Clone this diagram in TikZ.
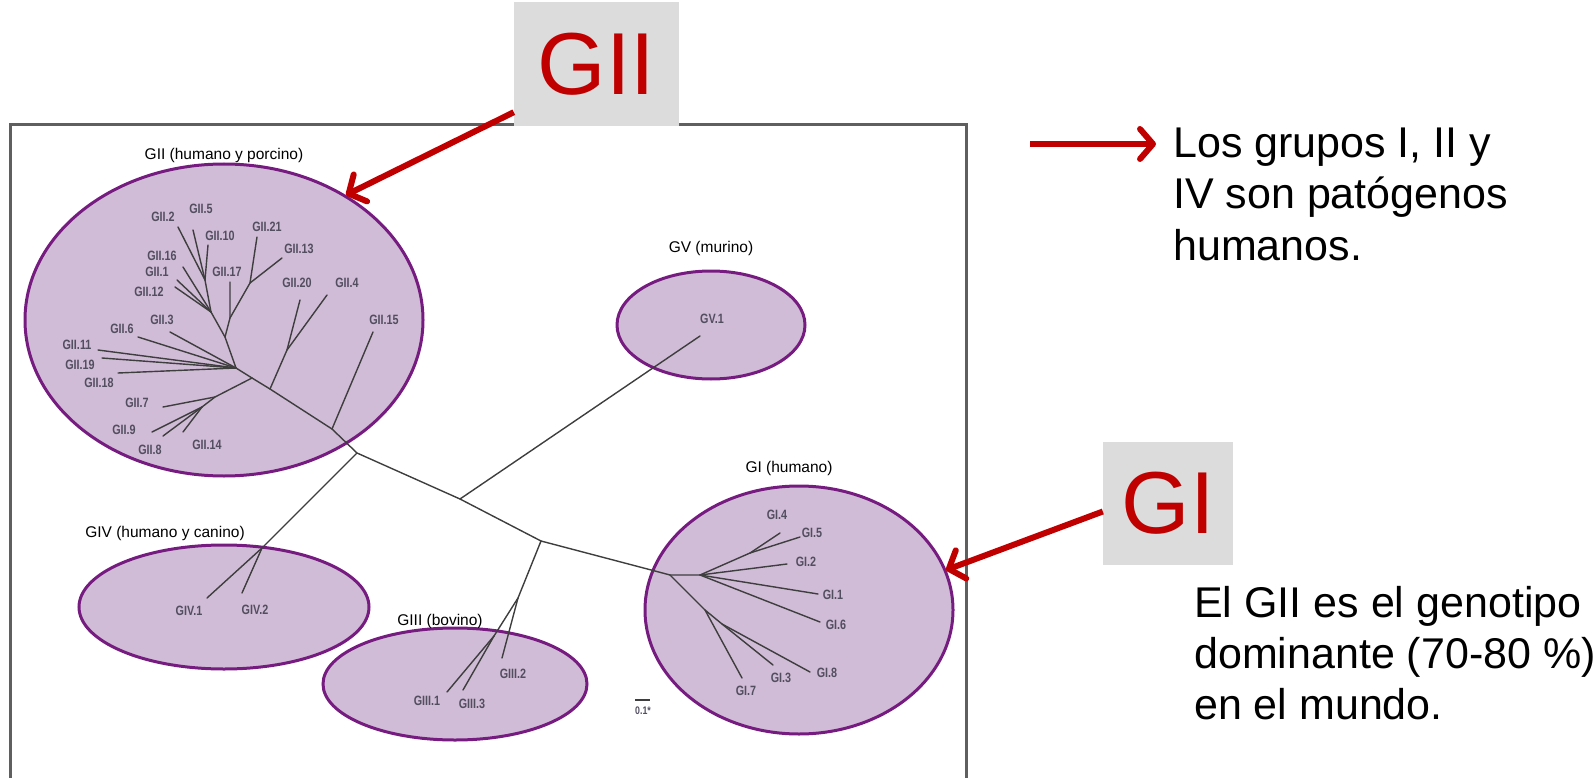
\documentclass[tikz,border=0pt]{standalone}
\usepackage{fontspec}
\setmainfont{Liberation Sans}
\usetikzlibrary{shapes.geometric,arrows.meta}
\definecolor{grpfill}{RGB}{208,188,214}
\definecolor{grpedge}{RGB}{118,28,128}
\definecolor{treecol}{RGB}{62,62,62}
\definecolor{callred}{RGB}{192,0,0}
\definecolor{boxgray}{RGB}{220,220,220}
\definecolor{leafcol}{RGB}{82,78,96}
\definecolor{framecol}{RGB}{95,95,95}
\newcommand{\leaftxt}[1]{\scalebox{0.8}[1]{#1}}
\begin{document}
\begin{tikzpicture}[x=1pt,y=-1pt,
  grp/.style={ellipse, draw=grpedge, fill=grpfill, line width=3pt, inner sep=0pt},
  br/.style={draw=treecol, line width=1.4pt, line cap=round},
  lf/.style={text=leafcol, inner sep=0pt, font=\fontsize{13.5}{14}\selectfont\bfseries},
  glab/.style={inner sep=0pt, font=\fontsize{15.5}{17}\selectfont},
  bigtxt/.style={inner sep=0pt, anchor=base west, font=\fontsize{43}{50}\selectfont},
  callbox/.style={fill=boxgray, inner sep=0pt, text=callred, font=\fontsize{88}{90}\selectfont},
  callarrow/.style={draw=callred, line width=6pt, -{Straight Barb[length=13pt,width=30pt,round]}}
]
\useasboundingbox (0,0) rectangle (1595,778);
% frame of the figure
\draw[framecol, line width=3pt] (10,790) -- (10,125) -- (966,125) -- (966,790);

% group ellipses
\node[grp, minimum width=398, minimum height=312] (eII) at (224,320) {};
\node[grp, minimum width=188, minimum height=108] (eV) at (711,325) {};
\node[grp, minimum width=290, minimum height=124] (eIV) at (224,607) {};
\node[grp, minimum width=264, minimum height=112] (eIII) at (455,684) {};
\node[grp, minimum width=308, minimum height=248] (eI) at (799,610) {};

% group labels
\node[glab] (labII) at (224,155) {GII (humano y porcino)};
\node[glab] (labV) at (711,248) {GV (murino)};
\node[glab] (labIV) at (165,533) {GIV (humano y canino)};
\node[glab] (labIII) at (440,621) {GIII (bovino)};
\node[glab] (labI) at (789,468) {GI (humano)};

% backbone coordinates
\coordinate (rII) at (252,378);
\coordinate (j20) at (270,389);
\coordinate (b15) at (332,429);
\coordinate (jIV) at (357,453);
\coordinate (jV) at (460,499);
\coordinate (jIII) at (541,541);
\coordinate (bnd) at (655,571);
\coordinate (rI) at (670,575);
\draw[br] (rII) -- (j20) -- (b15) -- (jIV) -- (jV) -- (jIII) -- (bnd) -- (rI);

% GV
\coordinate (eGV1) at (700,336);
\draw[br] (jV) -- (eGV1);
\node[lf] (nGV1) at (712,319) {\leaftxt{GV.1}};

% GIV
\coordinate (jIVb) at (262,548);
\coordinate (eGIV1) at (207,598);
\coordinate (eGIV2) at (242,593);
\draw[br] (jIV) -- (jIVb) -- (eGIV1);
\draw[br] (jIVb) -- (eGIV2);
\node[lf] (nGIV1) at (189,611) {\leaftxt{GIV.1}};
\node[lf] (nGIV2) at (255,610) {\leaftxt{GIV.2}};

% GIII
\coordinate (jIIIb) at (518,598);
\coordinate (jIIIc) at (494,636);
\coordinate (eGIII1) at (447,692);
\coordinate (eGIII2) at (502,658);
\coordinate (eGIII3) at (463,690);
\draw[br] (jIII) -- (jIIIb) -- (eGIII2);
\draw[br] (jIIIb) -- (jIIIc) -- (eGIII1);
\draw[br] (jIIIc) -- (eGIII3);
\node[lf] (nGIII1) at (427,701) {\leaftxt{GIII.1}};
\node[lf] (nGIII3) at (472,704) {\leaftxt{GIII.3}};
\node[lf] (nGIII2) at (513,674) {\leaftxt{GIII.2}};

% GI subtree
\coordinate (jIa) at (700,575);
\coordinate (jI45) at (750,553);
\coordinate (eGI4) at (780,533);
\coordinate (eGI5) at (800,537);
\coordinate (eGI2) at (787,564);
\coordinate (eGI1) at (818,594);
\coordinate (eGI6) at (820,622);
\coordinate (jIb) at (705,610);
\coordinate (jI38) at (722,624);
\coordinate (eGI7) at (742,678);
\coordinate (eGI3) at (773,665);
\coordinate (eGI8) at (810,672);
\draw[br] (rI) -- (jIa) -- (jI45) -- (eGI4);
\draw[br] (jI45) -- (eGI5);
\draw[br] (jIa) -- (eGI2);
\draw[br] (jIa) -- (eGI1);
\draw[br] (jIa) -- (eGI6);
\draw[br] (rI) -- (jIb) -- (eGI7);
\draw[br] (jIb) -- (jI38) -- (eGI3);
\draw[br] (jI38) -- (eGI8);
\node[lf] (nGI4) at (777,515) {\leaftxt{GI.4}};
\node[lf] (nGI5) at (812,533) {\leaftxt{GI.5}};
\node[lf] (nGI2) at (806,562) {\leaftxt{GI.2}};
\node[lf] (nGI1) at (833,595) {\leaftxt{GI.1}};
\node[lf] (nGI6) at (836,625) {\leaftxt{GI.6}};
\node[lf] (nGI8) at (827,673) {\leaftxt{GI.8}};
\node[lf] (nGI3) at (781,678) {\leaftxt{GI.3}};
\node[lf] (nGI7) at (746,691) {\leaftxt{GI.7}};

% GII subtree
\coordinate (e15) at (373,332);
\draw[br] (b15) -- (e15);
\coordinate (jJ) at (287,350);
\coordinate (e20) at (300,300);
\coordinate (e4) at (327,295);
\draw[br] (j20) -- (jJ) -- (e4);
\draw[br] (jJ) -- (e20);
\coordinate (jA) at (215,397);
\coordinate (jB) at (202,407);
\coordinate (e7) at (163,407);
\coordinate (e9) at (152,432);
\coordinate (e8) at (163,436);
\coordinate (e14) at (183,432);
\draw[br] (rII) -- (jA) -- (e7);
\draw[br] (jA) -- (jB) -- (e9);
\draw[br] (jB) -- (e8);
\draw[br] (jB) -- (e14);
\coordinate (jC) at (236,368);
\coordinate (e11) at (98,350);
\coordinate (e19) at (102,358);
\coordinate (e18) at (118,373);
\coordinate (e6) at (138,337);
\coordinate (e3) at (170,332);
\draw[br] (rII) -- (jC) -- (e11);
\draw[br] (jC) -- (e19);
\draw[br] (jC) -- (e18);
\draw[br] (jC) -- (e6);
\draw[br] (jC) -- (e3);
\coordinate (jD) at (225,337);
\coordinate (jE) at (211,312);
\coordinate (jF) at (205,280);
\coordinate (e12) at (175,287);
\coordinate (e1) at (177,280);
\coordinate (e16) at (183,267);
\coordinate (e2) at (178,227);
\coordinate (e5) at (193,230);
\coordinate (e10) at (208,245);
\draw[br] (jC) -- (jD) -- (jE) -- (e12);
\draw[br] (jE) -- (e1);
\draw[br] (jE) -- (e16);
\draw[br] (jE) -- (jF) -- (e2);
\draw[br] (jF) -- (e5);
\draw[br] (jF) -- (e10);
\coordinate (jG) at (230,318);
\coordinate (jH) at (250,283);
\coordinate (e17) at (230,282);
\coordinate (e21) at (257,237);
\coordinate (e13) at (282,258);
\draw[br] (jD) -- (jG) -- (e17);
\draw[br] (jG) -- (jH) -- (e21);
\draw[br] (jH) -- (e13);
\node[lf] (nGII2) at (163,217) {\leaftxt{GII.2}};
\node[lf] (nGII5) at (201,209) {\leaftxt{GII.5}};
\node[lf] (nGII10) at (220,236) {\leaftxt{GII.10}};
\node[lf] (nGII21) at (267,227) {\leaftxt{GII.21}};
\node[lf] (nGII13) at (299,249) {\leaftxt{GII.13}};
\node[lf] (nGII16) at (162,256) {\leaftxt{GII.16}};
\node[lf] (nGII1) at (157,272) {\leaftxt{GII.1}};
\node[lf] (nGII17) at (227,272) {\leaftxt{GII.17}};
\node[lf] (nGII12) at (149,292) {\leaftxt{GII.12}};
\node[lf] (nGII20) at (297,283) {\leaftxt{GII.20}};
\node[lf] (nGII4) at (347,283) {\leaftxt{GII.4}};
\node[lf] (nGII3) at (162,320) {\leaftxt{GII.3}};
\node[lf] (nGII6) at (122,329) {\leaftxt{GII.6}};
\node[lf] (nGII15) at (384,320) {\leaftxt{GII.15}};
\node[lf] (nGII11) at (77,345) {\leaftxt{GII.11}};
\node[lf] (nGII19) at (80,365) {\leaftxt{GII.19}};
\node[lf] (nGII18) at (99,383) {\leaftxt{GII.18}};
\node[lf] (nGII7) at (137,403) {\leaftxt{GII.7}};
\node[lf] (nGII9) at (124,430) {\leaftxt{GII.9}};
\node[lf] (nGII8) at (150,450) {\leaftxt{GII.8}};
\node[lf] (nGII14) at (207,445) {\leaftxt{GII.14}};

% scale bar
\coordinate (sb1) at (635,700);
\coordinate (sb2) at (650,700);
\draw[treecol, line width=1.2pt] (sb1) -- (sb2);
\node[lf, font=\fontsize{11}{11}\selectfont\bfseries] (sbl) at (643,711) {\leaftxt{0.1*}};

% call-out boxes and arrows
\coordinate (aII) at (346,195);
\coordinate (aI) at (946,570);
\node[callbox, minimum width=165, minimum height=124] (bxII) at (596.5,64) {GII};
\node[callbox, minimum width=130, minimum height=123] (bxI) at (1168,503.5) {GI};
\draw[callarrow] ([yshift=14pt]bxII.south west) -- (aII);
\draw[callarrow] ([yshift=-8pt]bxI.west) -- (aI);

% right-hand texts
\coordinate (ar1s) at (1030,144);
\coordinate (ar1e) at (1156,144);
\draw[callarrow] (ar1s) -- (ar1e);
\node[bigtxt] (t1a) at (1173,158) {Los grupos I, II y};
\node[bigtxt] (t1b) at (1173,209) {IV son patógenos};
\node[bigtxt] (t1c) at (1173,260) {humanos.};
\node[bigtxt] (t2a) at (1194,617) {El GII es el genotipo};
\node[bigtxt] (t2b) at (1194,668) {dominante (70-80 \%)};
\node[bigtxt] (t2c) at (1194,719) {en el mundo.};
\end{tikzpicture}
\end{document}
